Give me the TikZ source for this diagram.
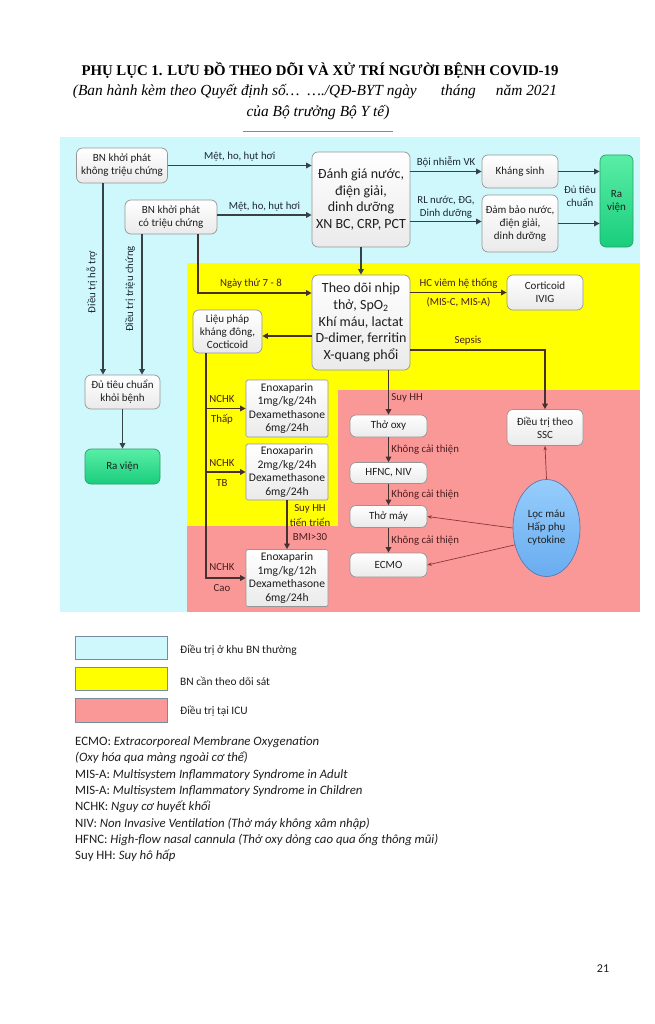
\documentclass[tikz,border=0pt]{standalone}
\usepackage{fontspec}
\setmainfont{Carlito}
\newfontfamily\timesf{Liberation Serif}
\usetikzlibrary{arrows.meta,shapes.geometric,calc}
\definecolor{cyanbg}{RGB}{206,248,251}
\definecolor{yel}{RGB}{255,255,0}
\definecolor{pinkbg}{RGB}{250,152,152}
\definecolor{boxborder}{RGB}{150,150,150}
\definecolor{boxgray}{RGB}{234,234,234}
\definecolor{txt}{RGB}{30,30,30}
\definecolor{lblc}{RGB}{30,40,55}
\definecolor{lbly}{RGB}{75,30,30}
\definecolor{arrc}{RGB}{55,65,72}
\definecolor{arry}{RGB}{70,48,48}
\definecolor{thinc}{RGB}{140,55,55}
\definecolor{greentop}{RGB}{90,238,165}
\definecolor{greenbot}{RGB}{25,205,125}
\definecolor{greenbd}{RGB}{40,160,105}
\definecolor{bluetop}{RGB}{150,205,252}
\definecolor{bluebot}{RGB}{105,172,240}
\definecolor{bluebd}{RGB}{90,120,175}
\definecolor{legbd}{RGB}{120,140,160}
\begin{document}
\begin{tikzpicture}[x=1pt,y=-1pt,
  box/.style={draw=boxborder, line width=0.7pt, rounded corners=6pt, top color=white, bottom color=boxgray,
    text=txt, align=center, inner sep=1pt, font=\fontsize{11}{13}\selectfont},
  bigbox/.style={box, font=\fontsize{14}{16.7}\selectfont},
  sqbox/.style={box, rounded corners=1.5pt, font=\fontsize{11.6}{13.5}\selectfont},
  greenbox/.style={draw=greenbd, line width=0.7pt, rounded corners=6pt, top color=greentop, bottom color=greenbot,
    text=txt, align=center, inner sep=1pt, font=\fontsize{11}{13}\selectfont},
  arr/.style={draw=arrc, line width=1.8pt, -{Triangle[length=5.5pt,width=5.5pt]}},
  arrb/.style={draw=arry, line width=1.8pt, -{Triangle[length=5.5pt,width=5.5pt]}},
  thin/.style={draw=thinc, line width=0.7pt, -{Stealth[length=4.5pt,width=3.5pt]}},
  lab/.style={text=lblc, font=\fontsize{10.8}{13}\selectfont, inner sep=1pt, align=center},
  laby/.style={text=lbly, font=\fontsize{10.8}{13}\selectfont, inner sep=1pt, align=center},
  foot/.style={anchor=west, text=txt, font=\fontsize{12.8}{15}\selectfont, inner sep=0pt},
  legrect/.style={draw=legbd, line width=0.6pt},
  leglab/.style={anchor=west, text=txt, font=\fontsize{11.4}{13}\selectfont, inner sep=0pt}
]
\useasboundingbox (0,0) rectangle (655,1024);
\fill[white] (0,0) rectangle (655,1024);

% title
\node[font=\timesf\bfseries\fontsize{14.8}{17}\selectfont, text=black] (t1) at (320,70) {PHỤ LỤC 1. LƯU ĐỒ THEO DÕI VÀ XỬ TRÍ NGƯỜI BỆNH COVID-19};
\node[font=\timesf\itshape\fontsize{15.4}{17}\selectfont, text=black] (t2) at (315,92) {(Ban hành kèm theo Quyết định số…\ \ …./QĐ-BYT ngày\hspace{24pt}tháng\hspace{20pt}năm 2021};
\node[font=\timesf\itshape\fontsize{15.4}{17}\selectfont, text=black] (t3) at (318,113) {của Bộ trưởng Bộ Y tế)};
\draw[legbd, line width=0.8pt] (243,131) -- (393,131);

% backgrounds
\fill[cyanbg] (60,137) rectangle (640,612);
\fill[yel] (187,263) rectangle (640,390);
\fill[yel] (187,390) rectangle (338,526);
\fill[pinkbg] (338,390) rectangle (640,612);
\fill[pinkbg] (187,526) rectangle (338,612);

% nodes
\node[box, minimum width=91, minimum height=35] (b1) at (122,165.5) {BN khởi phát\\không triệu chứng};
\node[box, minimum width=92, minimum height=34] (b2) at (171,217) {BN khởi phát\\có triệu chứng};
\node[bigbox, minimum width=98, minimum height=95] (b3) at (361,199.5) {Đánh giá nước,\\điện giải,\\dinh dưỡng\\XN BC, CRP, PCT};
\node[box, minimum width=76, minimum height=33] (ks) at (520,171.5) {Kháng sinh};
\node[box, minimum width=76, minimum height=57] (db) at (520,223.5) {Đảm bảo nước,\\điện giải,\\dinh dưỡng};
\node[greenbox, minimum width=33, minimum height=92] (rv1) at (616.5,201) {Ra\\viện};
\node[bigbox, minimum width=98, minimum height=95] (b7) at (361,322.5) {Theo dõi nhịp\\thở, SpO\textsubscript{2}\\Khí máu, lactat\\D-dimer, ferritin\\X-quang phổi};
\node[box, minimum width=76, minimum height=35] (ci) at (545,292.5) {Corticoid\\IVIG};
\node[box, minimum width=69, minimum height=43] (lp) at (227.5,331.5) {Liệu pháp\\kháng đông,\\Cocticoid};
\node[box, minimum width=75, minimum height=34] (dtc) at (122.5,392) {Đủ tiêu chuẩn\\khỏi bệnh};
\node[greenbox, minimum width=75, minimum height=35] (rv2) at (122.5,466.5) {Ra viện};
\node[sqbox, minimum width=82, minimum height=57] (e1) at (287,408.5) {Enoxaparin\\1mg/kg/24h\\Dexamethasone\\6mg/24h};
\node[sqbox, minimum width=82, minimum height=56] (e2) at (287,472) {Enoxaparin\\2mg/kg/24h\\Dexamethasone\\6mg/24h};
\node[sqbox, minimum width=82, minimum height=57] (e3) at (287,578) {Enoxaparin\\1mg/kg/12h\\Dexamethasone\\6mg/24h};
\node[box, minimum width=77, minimum height=22] (to) at (388.5,426) {Thở oxy};
\node[box, minimum width=77, minimum height=21] (hf) at (388.5,473) {HFNC, NIV};
\node[box, minimum width=77, minimum height=22] (tm) at (388.5,516.5) {Thở máy};
\node[box, minimum width=77, minimum height=24] (ec) at (388.5,565) {ECMO};
\node[box, minimum width=76, minimum height=36] (ssc) at (545,427.5) {Điều trị theo\\SSC};
\node[ellipse, draw=bluebd, line width=0.7pt, top color=bluetop, bottom color=bluebot, minimum width=67, minimum height=97,
  inner sep=0pt, align=center, text=txt, font=\fontsize{11}{13}\selectfont] (el) at (546.5,528) {Lọc máu\\Hấp phụ\\cytokine};

% helper coordinates
\coordinate (c1) at (198,293);
\coordinate (c2) at (0,336);
\coordinate (c3) at (468,350);
\coordinate (c4) at (206,0);
\coordinate (xa) at (103,0);
\coordinate (xb) at (142,0);

% connectors - cyan area
\draw[arr] (b1.east) -- node[lab, above=2pt] {Mệt, ho, hụt hơi} (b1.east -| b3.west);
\draw[arr] ($(b2.east)+(0,-2)$) -- node[lab, above=2pt] {Mệt, ho, hụt hơi} ($(b2.east -| b3.west)+(0,-2)$);
\draw[arr] (b3.east |- ks) -- node[lab, above=2pt] {Bội nhiễm VK} (ks.west);
\draw[arr] ($(b3.east |- db)+(0,-2)$) -- node[lab, above=1pt] {RL nước, ĐG,\\Dinh dưỡng} ($(db.west)+(0,-2)$);
\draw[arr] (ks.east) -- (ks.east -| rv1.west);
\draw[arr] (db.east) -- (db.east -| rv1.west);
\node[lab] (lbdtc) at (580,196) {Đủ tiêu\\chuẩn};
\draw[arr] (b3.south) -- (b7.north);
\draw[arr] (b2.south -| xb) -- (dtc.north -| xb);
\draw[arr] (b1.south -| xa) -- (dtc.north -| xa);
\node[lab, rotate=90] (lhotro) at (92,282) {Điều trị hỗ trợ};
\node[lab, rotate=90] (ltc) at (130,289) {Điều trị triệu chứng};
\draw[arr] (dtc.south) -- (rv2.north);

% connectors - yellow/pink area
\draw[arrb] (b2.south -| c1) |- (b7.west |- c1);
\node[laby] (l78) at (251,284) {Ngày thứ 7 - 8};
\draw[arrb] (b7.west |- c2) -- (lp.east |- c2);
\draw[arrb] (b7.east |- ci) -- node[laby, above=2pt] {HC viêm hệ thống} node[laby, below=3pt] {(MIS-C, MIS-A)} (ci.west);
\draw[arrb] (b7.east |- c3) -| (ssc.north);
\node[laby] (lsep) at (468,341) {Sepsis};
\draw[arrb] (b7.south -| to) -- node[laby, right=1pt, pos=0.62] {Suy HH} (to.north);
\draw[arrb] (to.south) -- node[laby, right=1pt] {Không cải thiện} (hf.north);
\draw[arrb] (hf.south) -- node[laby, right=1pt] {Không cải thiện} (tm.north);
\draw[arrb] (tm.south) -- node[laby, right=1pt] {Không cải thiện} (ec.north);
\draw[arrb] (lp.south -| c4) |- (e1.west);
\draw[arrb] (lp.south -| c4) |- (e2.west);
\draw[arrb] (lp.south -| c4) |- (e3.west);
\node[laby] (n1) at (222,399) {NCHK};
\node[laby] (n1b) at (222,419) {Thấp};
\node[laby] (n2) at (222,463) {NCHK};
\node[laby] (n2b) at (222,483) {TB};
\node[laby] (n3) at (222,567) {NCHK};
\node[laby] (n3b) at (222,588) {Cao};
\draw[arrb] (e2.south) -- (e3.north);
\node[laby, font=\fontsize{10.8}{14.5}\selectfont] (lsuy) at (310,523) {Suy HH\\tiến triển\\BMI>30};
\draw[thin] (el.west) -- (tm.east);
\draw[thin] (el.208) -- (ec.east);
\draw[thin] (el.north) -- (ssc.south);

% legend
\draw[legrect, fill=cyanbg] (75,636) rectangle (167,659);
\draw[legrect, fill=yel] (75,667) rectangle (167,690);
\draw[legrect, fill=pinkbg] (75,698) rectangle (167,722);
\node[leglab] (lg1) at (180,650) {Điều trị ở khu BN thường};
\node[leglab] (lg2) at (180,681) {BN cần theo dõi sát};
\node[leglab] (lg3) at (180,711) {Điều trị tại ICU};

% footnotes
\node[foot] (f1) at (75,742) {ECMO: \textit{Extracorporeal Membrane Oxygenation}};
\node[foot] (f2) at (75,758) {\textit{(Oxy hóa qua màng ngoài cơ thể)}};
\node[foot] (f3) at (75,775) {MIS-A: \textit{Multisystem Inflammatory Syndrome in Adult}};
\node[foot] (f4) at (75,791) {MIS-A: \textit{Multisystem Inflammatory Syndrome in Children}};
\node[foot] (f5) at (75,807) {NCHK: \textit{Nguy cơ huyết khối}};
\node[foot] (f6) at (75,824) {NIV: \textit{Non Invasive Ventilation (Thở máy không xâm nhập)}};
\node[foot] (f7) at (75,840) {HFNC: \textit{High-flow nasal cannula (Thở oxy dòng cao qua ống thông mũi)}};
\node[foot] (f8) at (75,856) {Suy HH: \textit{Suy hô hấp}};

\node[text=txt, font=\fontsize{12}{14}\selectfont] (pg) at (603,969) {21};
\end{tikzpicture}
\end{document}
